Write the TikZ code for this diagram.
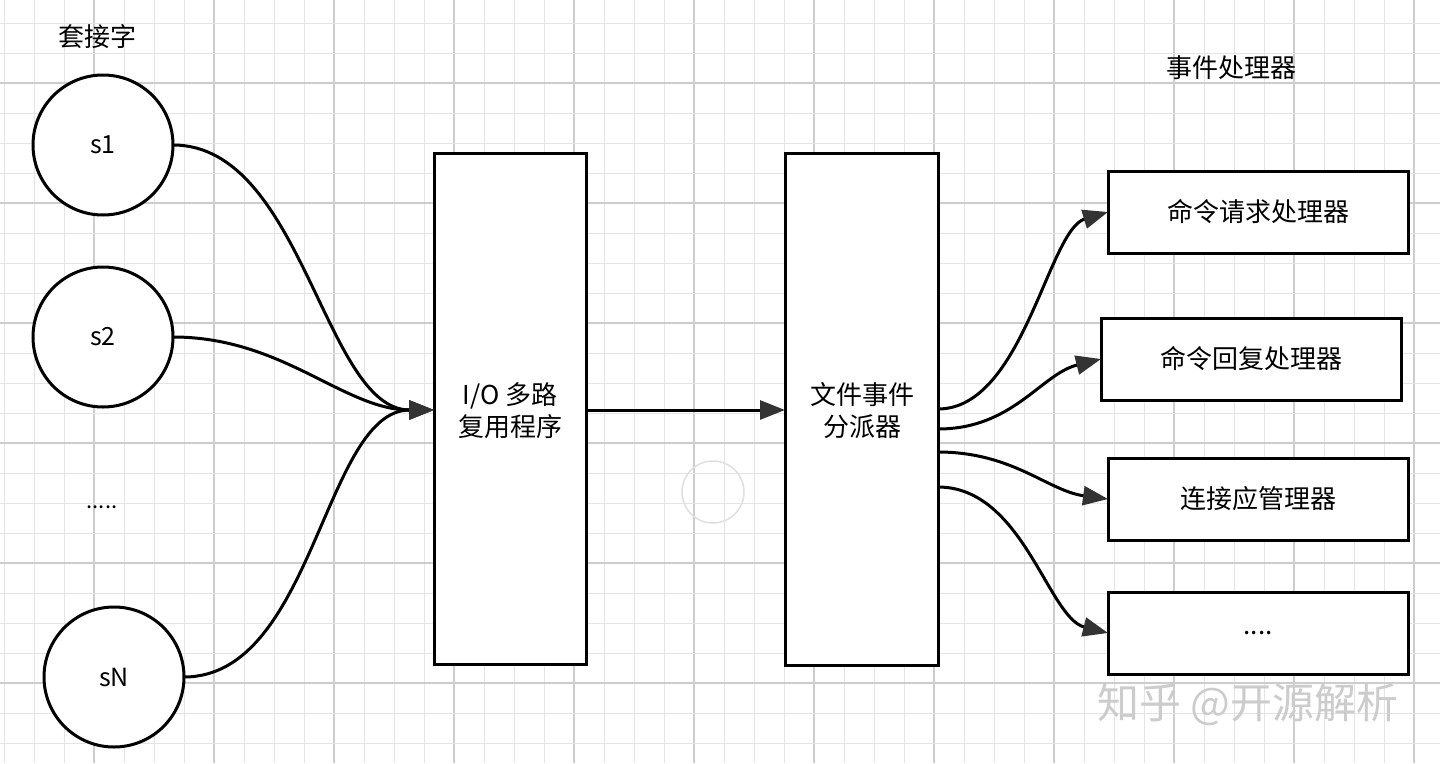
\documentclass[tikz,border=0pt]{standalone}
\usepackage{fontspec}
\setmainfont{Noto Sans CJK SC}
\usetikzlibrary{arrows.meta}
\definecolor{gridminor}{HTML}{E4E4E4}
\definecolor{gridmajor}{HTML}{CDCDCD}
\definecolor{tipgray}{HTML}{333333}
\tikzset{
  sock/.style={circle,draw=black,line width=3pt,fill=white,minimum size=140pt,inner sep=0pt,outer sep=0pt,font=\fontsize{25}{29}\selectfont},
  tallbox/.style={rectangle,draw=black,line width=3pt,fill=white,minimum width=152pt,minimum height=511pt,inner sep=0pt,outer sep=0pt},
  handler/.style={rectangle,draw=black,line width=3pt,fill=white,minimum width=300pt,minimum height=82pt,inner sep=0pt,outer sep=0pt,font=\fontsize{26}{30}\selectfont},
  lbl/.style={inner sep=0pt,font=\fontsize{26}{32}\selectfont,align=center},
  conn/.style={line width=3pt,draw=black,-{Triangle[length=25pt,width=19pt,fill=tipgray,color=tipgray]}},
}
\begin{document}
\begin{tikzpicture}[x=1pt,y=-1pt]
\useasboundingbox (0,0) rectangle (1440,763);
\fill[white] (0,0) rectangle (1440,763);
% grid
\foreach \k in {0,...,47} {
  \pgfmathtruncatemacro{\m}{mod(\k,4)}
  \ifnum\m=3
    \draw[gridmajor,line width=1.2pt] ({4+30*\k},0) -- ({4+30*\k},763);
  \else
    \draw[gridminor,line width=1pt] ({4+30*\k},0) -- ({4+30*\k},763);
  \fi
}
\foreach \k in {0,...,24} {
  \pgfmathtruncatemacro{\m}{mod(\k,4)}
  \ifnum\m=2
    \draw[gridmajor,line width=1.2pt] (0,{23+30*\k}) -- (1440,{23+30*\k});
  \else
    \draw[gridminor,line width=1pt] (0,{23+30*\k}) -- (1440,{23+30*\k});
  \fi
}
% faint circle artifact
\draw[gray!25,line width=1.5pt] (713,492) circle (31);

% titles
\node[lbl] (ttlsock) at (97,37) {套接字};
\node[lbl] (ttlhand) at (1231,68) {事件处理器};

% sockets
\node[sock] (s1) at (103,145) {s1};
\node[sock] (s2) at (103,337) {s2};
\node[lbl,font=\fontsize{22}{26}\selectfont] (dots) at (102,507) {.....};
\node[sock] (sN) at (114,677) {sN};

% main boxes
\node[tallbox] (io) at (510,408.5) {};
\node[lbl] (iotext) at (510,411) {I/O 多路\\复用程序};
\node[tallbox,minimum width=153pt,minimum height=512pt] (disp) at (861.5,409) {};
\node[lbl] (disptext) at (862,411) {文件事件\\分派器};

% handlers
\node[handler] (h1) at (1258,212) {命令请求处理器};
\node[handler] (h2) at (1251,359) {命令回复处理器};
\node[handler] (h3) at (1258,499) {连接应管理器};
\node[handler] (h4) at (1258,633) {....};

% connectors left
\coordinate (ioin) at ([yshift=-1.5pt]io.west);
\draw[conn] (s1.east) .. controls +(130,0) and +(-110,0) .. (ioin);
\draw[conn] (s2.east) .. controls +(110,0) and +(-90,0) .. (ioin);
\draw[conn] (sN.east) .. controls +(130,0) and +(-110,0) .. (ioin);
% middle
\draw[conn] ([yshift=-1.5pt]io.east) -- ([yshift=-1pt]disp.west);
% right
\coordinate (d1) at ([yshift=0pt]disp.east);
\coordinate (d2) at ([yshift=-20pt]disp.east);
\coordinate (d3) at ([yshift=-43pt]disp.east);
\coordinate (d4) at ([yshift=-78pt]disp.east);
\draw[conn] (d1) .. controls +(85,0) and +(-60,18) .. (h1.west);
\draw[conn] (d2) .. controls +(75,0) and +(-60,15) .. (h2.west);
\draw[conn] (d3) .. controls +(75,0) and +(-60,-8) .. (h3.west);
\draw[conn] (d4) .. controls +(85,0) and +(-60,-15) .. (h4.west);

% watermark
\node[inner sep=0pt,font=\fontsize{42}{46}\selectfont,text=gray!40] (wm) at (1248,704) {知乎 @开源解析};
\end{tikzpicture}
\end{document}
